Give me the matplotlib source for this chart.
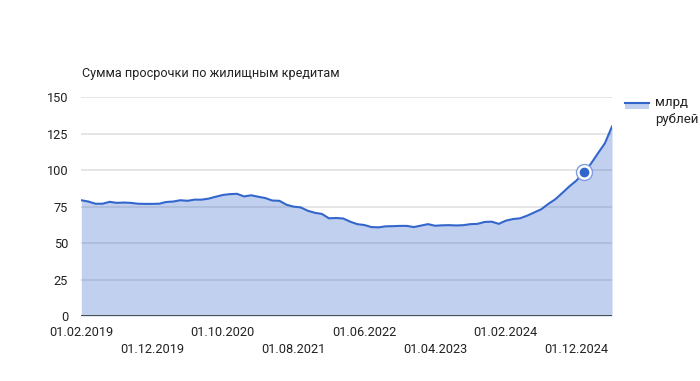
import matplotlib
matplotlib.use("Agg")
import matplotlib.pyplot as plt
import pandas as pd

title = "Сумма просрочки по жилищным кредитам"
series_name = "млрд\nрублей"
start_month = "2019-02-01"
values = [79.4, 78.5, 77.0, 77.0, 78.3, 77.6, 77.8, 77.6, 77.0, 76.9,
          76.9, 77.0, 78.2, 78.5, 79.4, 79.0, 79.8, 79.8, 80.5, 81.8,
          83.0, 83.6, 83.8, 82.0, 82.8, 81.8, 80.9, 79.2, 79.0, 76.3,
          75.0, 74.5, 72.2, 70.8, 70.0, 67.0, 67.2, 66.9, 64.7, 63.0,
          62.4, 61.0, 60.8, 61.5, 61.6, 61.8, 61.8, 61.0, 62.0, 63.0,
          61.9, 62.2, 62.3, 62.1, 62.3, 63.0, 63.2, 64.5, 64.7, 63.2,
          65.4, 66.5, 67.0, 68.8, 71.0, 73.2, 76.9, 80.1, 84.5, 89.0,
          93.0, 98.8, 104.3, 111.5, 118.5, 130.0]
highlight_index = 71
yticks = [0, 25, 50, 75, 100, 125, 150]
label_step = 10

dates = pd.date_range(start_month, periods=len(values), freq="MS")
x = list(range(len(values)))

plt.rcParams['font.family'] = ['Roboto', 'DejaVu Sans']
blue = "#3366cc"
fig = plt.figure(figsize=(7.0, 3.81), dpi=100)
ax = fig.add_axes([81.3/700, 1-316/381, (612-81.3)/700, (316-97.3)/381])

for yv in yticks[1:]:
    ax.axhline(yv, color="#e0e0e0", lw=1.2, zorder=0)
ax.fill_between(x, values, 0, color=blue, alpha=0.3, lw=0, zorder=1)
ax.plot(x, values, color=blue, lw=1.5, zorder=3, solid_joinstyle='round')
ax.axhline(0, color="#333333", lw=1.2, zorder=4)

ax.plot([highlight_index], [values[highlight_index]], 'o', ms=11.5, mfc="white",
        mec="#7f9ee0", mew=1, zorder=5)
ax.plot([highlight_index], [values[highlight_index]], 'o', ms=7, mfc=blue,
        mec=blue, mew=0, zorder=6)

ax.set_xlim(0, len(values)-1)
ax.set_ylim(0, 150)
ax.set_yticks(yticks)
ax.tick_params(axis='y', length=0, pad=9.5, labelsize=9.2, labelcolor="#222222")

tick_pos = list(range(0, len(values), label_step))
labels = [dates[i].strftime("%d.%m.%Y") for i in tick_pos]
ax.set_xticks(tick_pos[0::2])
ax.set_xticklabels(labels[0::2])
ax.set_xticks(tick_pos[1::2], minor=True)
ax.set_xticklabels(labels[1::2], minor=True)
ax.tick_params(axis='x', which='major', length=0, pad=7.5, labelsize=9.2, labelcolor="#222222")
ax.tick_params(axis='x', which='minor', length=0, pad=19.5, labelsize=9.2, labelcolor="#222222")

for s in ax.spines.values():
    s.set_visible(False)

fig.text(81.5/700, 1-74/381, title, fontsize=9.1, color="#222222", va='center', ha='left')

# legend
lx0, lx1 = 625/700, 649/700
fig.patches.append(plt.Rectangle((lx0, 1-109/381), lx1-lx0, 7/381, transform=fig.transFigure,
                                 facecolor=blue, alpha=0.3, lw=0))
fig.lines.append(plt.Line2D([lx0, lx1], [1-102.5/381, 1-102.5/381], transform=fig.transFigure,
                            color=blue, lw=1.5))
fig.text(655/700, 1-96/381, series_name, fontsize=9.5, color="#222222", va='top', ha='left',
         linespacing=1.35)

fig.savefig("out.png", dpi=100)
